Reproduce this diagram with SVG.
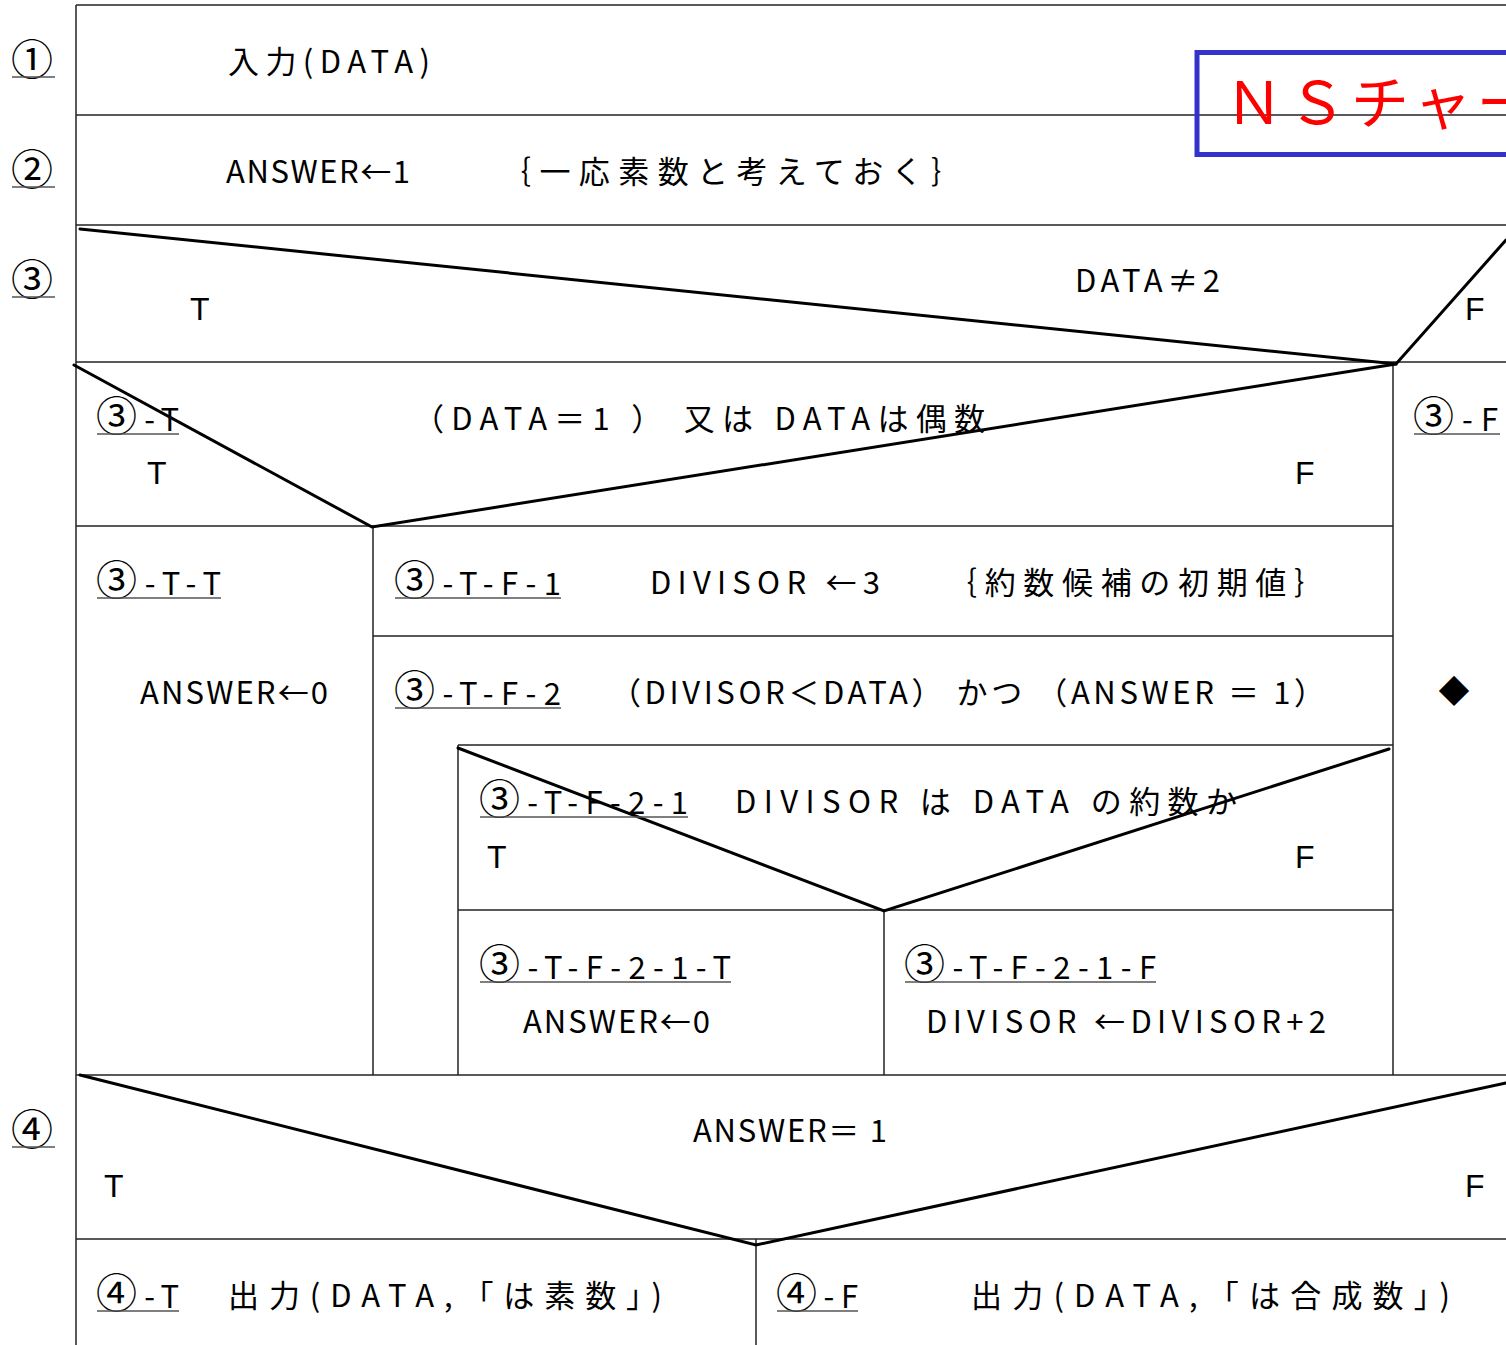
<svg xmlns="http://www.w3.org/2000/svg" width="1506" height="1345" viewBox="0 0 1506 1345">
<style>
.g{font-family:"Noto Sans CJK JP","Noto Sans CJK SC",sans-serif;font-size:31px;fill:#000}
.c{font-size:41px}
.tf{font-family:"Liberation Sans",Arial,sans-serif;font-size:32px;fill:#000}
.num{font-family:"Noto Sans CJK JP",sans-serif;font-size:42px;fill:#000}
.grid{stroke:#222;stroke-width:1.5;fill:none}
.diag{stroke:#000;stroke-width:3;fill:none;stroke-linecap:round}
.ul{stroke:#555;stroke-width:1.5}
.title{font-family:"Noto Sans CJK JP",sans-serif;font-size:58px;fill:#ff0000}
</style>
<rect width="1506" height="1345" fill="#fff"/>

<g id="connectors">
  <line class="grid" x1="76" y1="5" x2="76" y2="1345"/>
  <line class="grid" x1="76" y1="5" x2="1506" y2="5"/>
  <line class="grid" x1="76" y1="115" x2="1506" y2="115"/>
  <line class="grid" x1="76" y1="225" x2="1506" y2="225"/>
  <line class="grid" x1="76" y1="362" x2="1506" y2="362"/>
  <line class="grid" x1="76" y1="526" x2="1393" y2="526"/>
  <line class="grid" x1="1393" y1="362" x2="1393" y2="1075"/>
  <line class="grid" x1="373" y1="526" x2="373" y2="1075"/>
  <line class="grid" x1="373" y1="636" x2="1393" y2="636"/>
  <line class="grid" x1="458" y1="745" x2="1393" y2="745"/>
  <line class="grid" x1="458" y1="745" x2="458" y2="1075"/>
  <line class="grid" x1="458" y1="910" x2="1393" y2="910"/>
  <line class="grid" x1="884" y1="910" x2="884" y2="1075"/>
  <line class="grid" x1="76" y1="1075" x2="1506" y2="1075"/>
  <line class="grid" x1="76" y1="1239" x2="1506" y2="1239"/>
  <line class="grid" x1="756" y1="1239" x2="756" y2="1345"/>
  <polyline class="diag" points="80,229 1396,364 1506,240"/>
  <polyline class="diag" points="74,365 372,527 1396,364"/>
  <polyline class="diag" points="458,748 884,911 1389,749"/>
  <polyline class="diag" points="80,1075 756,1245 1506,1083"/>
</g>

<g id="row-labels">
  <text class="num" x="11" y="75">①</text><line class="ul" x1="12" y1="77" x2="55" y2="77"/>
  <text class="num" x="11" y="185">②</text><line class="ul" x1="12" y1="187" x2="55" y2="187"/>
  <text class="num" x="11" y="295">③</text><line class="ul" x1="12" y1="297" x2="55" y2="297"/>
  <text class="num" x="11" y="1145">④</text><line class="ul" x1="12" y1="1147" x2="55" y2="1147"/>
</g>

<g id="title">
  <rect x="1197" y="52.5" width="340" height="102" fill="none" stroke="#3333cc" stroke-width="5"/>
  <text class="title" x="1225" y="124" letter-spacing="5">ＮＳチャー</text>
</g>

<g id="node1">
  <text class="g" x="228" y="73" textLength="202" lengthAdjust="spacing">入力(DATA)</text>
</g>

<g id="node2">
  <text class="g" x="226" y="183" textLength="184" lengthAdjust="spacing">ANSWER←1</text>
  <text class="g" x="500" y="183" textLength="462" lengthAdjust="spacing">｛一応素数と考えておく｝</text>
</g>

<g id="node3">
  <text class="g" x="1075" y="292" textLength="145" lengthAdjust="spacing">DATA≠2</text>
  <text class="tf" x="190" y="320">T</text>
  <text class="tf" x="1465" y="320">F</text>
</g>

<g id="node3-T">
  <text class="g" x="96" y="431" textLength="83" lengthAdjust="spacing"><tspan class="c">③</tspan>-T</text>
  <line class="ul" x1="97" y1="434" x2="179" y2="434"/>
  <text class="g" x="413" y="430" textLength="572" lengthAdjust="spacing">（DATA＝1 ） 又は DATAは偶数</text>
  <text class="tf" x="147" y="484">T</text>
  <text class="tf" x="1295" y="484">F</text>
</g>

<g id="node3-F">
  <text class="g" x="1413" y="431" textLength="85" lengthAdjust="spacing"><tspan class="c">③</tspan>-F</text>
  <line class="ul" x1="1414" y1="434" x2="1500" y2="434"/>
  <text class="g" x="1454" y="702" text-anchor="middle" font-size="30">◆</text>
</g>

<g id="node3-T-T">
  <text class="g" x="96" y="595" textLength="125" lengthAdjust="spacing"><tspan class="c">③</tspan>-T-T</text>
  <line class="ul" x1="97" y1="598" x2="221" y2="598"/>
  <text class="g" x="140" y="704" textLength="188" lengthAdjust="spacing">ANSWER←0</text>
</g>

<g id="node3-T-F-1">
  <text class="g" x="394" y="595" textLength="167" lengthAdjust="spacing"><tspan class="c">③</tspan>-T-F-1</text>
  <line class="ul" x1="395" y1="598" x2="561" y2="598"/>
  <text class="g" x="650" y="594" textLength="230" lengthAdjust="spacing">DIVISOR ←3</text>
  <text class="g" x="946" y="594" textLength="379" lengthAdjust="spacing">｛約数候補の初期値｝</text>
</g>

<g id="node3-T-F-2">
  <text class="g" x="394" y="705" textLength="167" lengthAdjust="spacing"><tspan class="c">③</tspan>-T-F-2</text>
  <line class="ul" x1="395" y1="708" x2="561" y2="708"/>
  <text class="g" x="610" y="704" textLength="715" lengthAdjust="spacing">（DIVISOR＜DATA） かつ （ANSWER ＝ 1）</text>
</g>

<g id="node3-T-F-2-1">
  <text class="g" x="479" y="814" textLength="209" lengthAdjust="spacing"><tspan class="c">③</tspan>-T-F-2-1</text>
  <line class="ul" x1="480" y1="817" x2="688" y2="817"/>
  <text class="g" x="735" y="813" textLength="502" lengthAdjust="spacing">DIVISOR は DATA の約数か</text>
  <text class="tf" x="487" y="868">T</text>
  <text class="tf" x="1295" y="868">F</text>
</g>

<g id="node3-T-F-2-1-T">
  <text class="g" x="479" y="979" textLength="252" lengthAdjust="spacing"><tspan class="c">③</tspan>-T-F-2-1-T</text>
  <line class="ul" x1="480" y1="982" x2="731" y2="982"/>
  <text class="g" x="523" y="1033" textLength="187" lengthAdjust="spacing">ANSWER←0</text>
</g>

<g id="node3-T-F-2-1-F">
  <text class="g" x="904" y="979" textLength="252" lengthAdjust="spacing"><tspan class="c">③</tspan>-T-F-2-1-F</text>
  <line class="ul" x1="905" y1="982" x2="1156" y2="982"/>
  <text class="g" x="926" y="1033" textLength="400" lengthAdjust="spacing">DIVISOR ←DIVISOR+2</text>
</g>

<g id="node4">
  <text class="g" x="693" y="1142" textLength="194" lengthAdjust="spacing">ANSWER＝ 1</text>
  <text class="tf" x="104" y="1197">T</text>
  <text class="tf" x="1465" y="1197">F</text>
</g>

<g id="node4-T">
  <text class="g" x="96" y="1308" textLength="83" lengthAdjust="spacing"><tspan class="c">④</tspan>-T</text>
  <line class="ul" x1="97" y1="1311" x2="179" y2="1311"/>
  <text class="g" x="228" y="1307" textLength="434" lengthAdjust="spacing">出力(DATA,「は素数」)</text>
</g>

<g id="node4-F">
  <text class="g" x="776" y="1308" textLength="82" lengthAdjust="spacing"><tspan class="c">④</tspan>-F</text>
  <line class="ul" x1="777" y1="1311" x2="858" y2="1311"/>
  <text class="g" x="971" y="1307" textLength="479" lengthAdjust="spacing">出力(DATA,「は合成数」)</text>
</g>
</svg>
